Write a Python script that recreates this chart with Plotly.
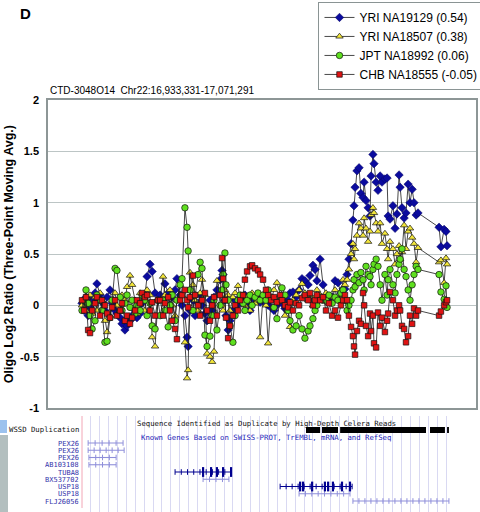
import plotly.graph_objects as go

# ---------------- data ----------------
# probe positions, kb from chr22:16,933,331
probe_kb = [
    0.0, 0.8, 1.5, 2.3, 3.0, 3.8, 4.9, 5.6, 6.8, 7.5, 8.6, 9.4, 10.5, 11.3, 12.4, 13.1,
    14.3, 15.0, 16.1, 16.9, 18.0, 18.8, 19.9, 20.6, 21.8, 22.5, 23.6, 24.4, 25.5, 26.3, 27.4, 28.5,
    29.3, 30.4, 31.1, 32.3, 33.0, 33.8, 34.9, 35.6, 36.8, 37.5, 38.6, 39.4, 39.8, 40.5, 41.6, 42.4,
    43.5, 44.3, 45.0, 46.1, 46.9, 48.0, 48.8, 49.5, 50.6, 51.8, 52.5, 52.9, 53.6, 54.0, 54.8, 55.5,
    56.6, 57.4, 58.5, 59.3, 60.4, 61.1, 61.9, 63.0, 63.8, 64.9, 66.0, 66.8,
    67.9, 69.0, 69.8, 70.9, 72.0, 73.1, 74.3, 75.0, 76.1, 77.3, 78.0, 79.1, 80.3, 81.4, 82.5,
    83.6, 84.8, 85.5, 86.6, 87.4, 88.1, 89.3, 90.4, 91.5, 92.6, 93.8, 94.9, 96.0, 97.1, 97.9,
    98.6, 99.4, 100.1, 100.9, 101.6, 102.0, 102.4, 103.1, 103.9, 104.6, 105.4, 105.8, 106.5, 107.3,
    108.0, 108.4, 109.1, 109.5, 110.3, 111.0, 111.8, 112.5, 113.6, 114.4, 114.8, 115.5, 116.6, 117.4,
    118.1, 118.9, 119.3, 120.0, 120.8, 121.5, 122.3, 123.0, 123.8, 124.5, 125.3, 126.0,
    133.9, 134.6, 135.8, 136.5, 136.9,
]

yri_na19129 = [
    0.02, -0.05, 0.08, -0.10, -0.02, 0.05, 0.12, 0.21, 0.10, 0.03, -0.05, 0.08, 0.15, 0.02, -0.05, -0.08,
    -0.12, -0.18, -0.24, -0.20, -0.15, -0.10, -0.05, -0.12, -0.08, 0.02, 0.10, 0.28, 0.40, 0.33, 0.12, 0.05,
    0.10, 0.05, 0.21, 0.12, 0.00, 0.08, 0.15, 0.26, 0.10, 0.00, -0.10, -0.31, -0.40, -0.05, 0.05, -0.10,
    0.02, 0.10, 0.00, -0.08, -0.15, 0.05, -0.05, 0.08, 0.15, 0.25, 0.34, 0.30, 0.05, -0.10, -0.24, -0.15,
    -0.05, 0.05, 0.00, 0.08, 0.05, 0.10, 0.02, -0.05, 0.08, 0.05, 0.10, 0.03,
    0.05, 0.02, 0.00, -0.02, -0.05, 0.00, 0.05, 0.02, -0.03, 0.05, 0.12, 0.13, 0.08, 0.15, 0.26,
    0.24, 0.20, 0.29, 0.39, 0.35, 0.24, 0.45, 0.20, 0.10, 0.05, 0.08, 0.24, 0.22, 0.12, 0.16,
    0.16, 0.30, 0.45, 0.60, 0.83, 0.97, 1.15, 1.31, 1.34, 1.09, 1.05, 1.20, 1.02, 0.95,
    0.87, 1.26, 1.47, 1.38, 1.20, 1.12, 1.26, 1.20, 1.23, 1.24, 0.87, 0.84, 0.97, 0.75,
    0.89, 1.27, 1.15, 0.95, 0.85, 0.90, 1.18, 1.00, 1.13, 1.00, 0.88, 0.90,
    0.76, 0.57, 0.74, 0.72, 0.58,
]

yri_na18507 = [
    0.00, 0.05, -0.05, 0.03, 0.10, -0.08, 0.08, -0.05, 0.12, 0.05, -0.15, -0.26, -0.10, 0.05, 0.12, 0.00,
    -0.05, 0.10, 0.05, 0.18, 0.29, 0.20, 0.05, -0.08, 0.12, 0.05, -0.05, 0.15, 0.10, -0.31, -0.40, 0.05,
    0.05, 0.28, 0.10, -0.05, 0.15, 0.00, -0.10, 0.05, 0.20, 0.10, -0.36, -0.71, -0.63, 0.32, 0.20, 0.05,
    -0.05, 0.12, 0.25, 0.10, -0.47, -0.50, -0.55, -0.45, 0.24, 0.10, 0.00, -0.05, 0.15, 0.05, 0.10, -0.05,
    0.08, 0.12, 0.19, 0.05, 0.10, 0.00, 0.08, -0.05, 0.12, 0.02, 0.05, -0.31,
    0.10, 0.00, -0.37, 0.05, 0.15, 0.22, 0.10, 0.05, -0.10, -0.05, -0.21, 0.05, 0.10, 0.15, 0.21,
    0.12, 0.05, 0.10, 0.00, 0.08, 0.15, 0.10, 0.05, 0.12, 0.02, 0.08, 0.15, 0.05, 0.10, 0.25,
    0.20, 0.25, 0.35, 0.50, 0.60, 0.45, 0.55, 0.68, 0.80, 0.75, 0.68, 0.85, 0.75, 0.62,
    0.72, 0.88, 0.95, 0.90, 0.80, 0.72, 0.80, 0.60, 0.70, 0.55, 0.45, 0.62, 0.55, 0.40,
    0.50, 0.58, 0.45, 0.52, 0.78, 0.55, 0.72, 0.75, 0.66, 0.60, 0.42, 0.56,
    0.42, 0.44, 0.22, 0.46, 0.40,
]

jpt_na18992 = [
    -0.05, 0.05, 0.15, 0.02, -0.10, -0.23, -0.15, 0.10, 0.05, -0.05, -0.36, -0.35, -0.12, 0.05, 0.36, 0.34,
    0.08, -0.05, 0.02, 0.10, -0.02, 0.05, -0.08, 0.00, -0.05, 0.10, 0.05, -0.10, 0.02, -0.20, -0.23, 0.05,
    -0.10, 0.05, -0.05, -0.21, 0.00, 0.10, -0.15, 0.05, 0.20, 0.26, 0.95, 0.76, 0.53, 0.15, -0.05, 0.10,
    0.30, 0.42, 0.36, -0.29, -0.40, -0.30, -0.10, 0.05, -0.24, 0.00, 0.15, 0.30, 0.51, 0.20, 0.05, -0.20,
    -0.36, -0.10, 0.05, 0.10, 0.02, -0.05, 0.05, 0.10, 0.00, 0.08, 0.12, 0.05,
    0.10, 0.05, 0.15, 0.08, -0.02, -0.13, 0.05, 0.17, 0.10, -0.05, -0.15, -0.24, -0.20, -0.10, -0.23,
    -0.32, -0.25, -0.20, -0.13, -0.05, 0.00, 0.08, 0.05, 0.05, 0.10, 0.02, 0.08, 0.05, 0.12, 0.15,
    0.05, -0.05, 0.00, 0.05, 0.15, 0.25, 0.18, 0.30, 0.22, 0.32, 0.25, 0.15, 0.38, 0.30,
    0.28, 0.20, 0.35, 0.40, 0.45, 0.38, 0.20, 0.05, 0.30, 0.10, 0.25, 0.35, 0.20, 0.12,
    0.30, 0.40, 0.45, 0.55, 0.35, 0.28, 0.15, 0.05, 0.20, 0.30, 0.38, 0.35,
    0.30, 0.13, 0.06, 0.19, -0.02,
]

chb_na18555 = [
    0.05, -0.05, 0.08, -0.24, -0.27, -0.05, 0.02, 0.08, -0.10, 0.05, 0.00, -0.08, -0.12, -0.02, 0.05, -0.10,
    -0.05, 0.02, -0.15, -0.10, -0.18, -0.12, -0.05, 0.05, 0.02, 0.12, 0.08, 0.10, -0.05, 0.03, -0.10, 0.05,
    0.05, -0.10, 0.02, 0.08, -0.05, -0.15, -0.23, -0.33, 0.05, 0.10, 0.15, 0.05, -0.02, 0.08, 0.29, 0.10,
    0.00, -0.10, 0.05, 0.12, -0.05, -0.15, 0.00, 0.08, -0.10, 0.10, 0.46, 0.26, 0.05, -0.12, -0.32, -0.20,
    -0.10, 0.00, -0.05, 0.05, 0.10, 0.25, 0.33, 0.38, 0.39, 0.36, 0.34, 0.30,
    0.25, 0.15, 0.10, 0.05, 0.08, 0.03, 0.10, 0.05, 0.00, -0.02, 0.03, -0.05, 0.02, 0.00, 0.07,
    0.10, 0.05, 0.12, 0.00, 0.05, 0.10, 0.05, 0.08, -0.05, 0.02, -0.10, -0.05, -0.12, 0.00, 0.05,
    0.10, 0.05, -0.10, -0.21, -0.30, -0.40, -0.48, -0.25, -0.15, -0.18, 0.12, 0.00, -0.20, -0.30,
    -0.08, -0.25, -0.10, -0.37, -0.41, -0.07, -0.20, -0.12, -0.26, -0.15, -0.08, 0.13, 0.05, -0.10,
    -0.05, 0.00, -0.05, -0.20, -0.23, -0.36, -0.30, -0.10, -0.18, -0.03, -0.10, -0.05,
    -0.10, -0.06, 0.00, 0.03, 0.05,
]

series_names = ["YRI NA19129 (0.54)", "YRI NA18507 (0.38)", "JPT NA18992 (0.06)", "CHB NA18555 (-0.05)"]
series_values = [yri_na19129, yri_na18507, jpt_na18992, chb_na18555]

y_tick_vals = [-1, -0.5, 0, 0.5, 1, 1.5, 2]
y_tick_text = ["-1", "-0.5", "0", "0.5", "1", "1.5", "2"]

# genome browser track (kb from region start)
gene_names = ["PEX26", "PEX26", "PEX26", "AB103108", "TUBA8", "BX537702", "USP18", "USP18", "FLJ26056"]
gene_start_kb = [2.3, 2.3, 2.6, 2.6, 34.9, 45.4, 74.3, 81.4, 101.6]
gene_end_kb = [15.4, 15.8, 12.8, 12.8, 55.9, 55.1, 101.3, 100.5, 137.6]
gene_known = [False, False, False, False, True, False, True, False, False]
tuba8_exons_kb = [45.4, 48.4, 50.6, 52.9, 55.9]
usp18_exons_kb = [81.8, 82.9, 86.3, 91.1, 92.3, 94.1, 97.5, 100.5]
wssd_start_kb = [84.0, 90.0, 96.8, 130.5, 136.9]
wssd_end_kb = [89.3, 96.0, 129.0, 136.1, 137.6]
region_len_kb = 137.96

for s in series_values:
    assert len(s) == len(probe_kb), len(s)

# ---------------- figure ----------------
FONT = "Arial, Liberation Sans, sans-serif"
MONO = "DejaVu Sans Mono, monospace"
X_RANGE = [-12.75, 147.75]

styles = [
    dict(symbol="diamond", color="#0b0b9e", size=6.5, line=dict(color="#05055e", width=0.5)),
    dict(symbol="triangle-up", color="#f3e63a", size=6.5, line=dict(color="#111111", width=0.7)),
    dict(symbol="circle", color="#5fe01f", size=6.5, line=dict(color="#111111", width=0.7)),
    dict(symbol="square", color="#e01313", size=5.5, line=dict(color="#111111", width=0.7)),
]

fig = go.Figure()
for name, vals, st in zip(series_names, series_values, styles):
    fig.add_trace(go.Scatter(
        x=probe_kb, y=vals, name=name, mode="lines+markers",
        line=dict(color="#1a1a1a", width=0.8),
        marker=st, xaxis="x", yaxis="y",
    ))

# genes
row_y = [27 + 7.25 * i for i in range(len(gene_names))]
for i, (g0, g1, known) in enumerate(zip(gene_start_kb, gene_end_kb, gene_known)):
    col = "#00008f" if known else "#8f8fda"
    n = max(2, int((g1 - g0) / 2.2))
    xs = [g0 + (g1 - g0) * k / n for k in range(n + 1)]
    fig.add_trace(go.Scatter(
        x=xs, y=[row_y[i]] * len(xs), mode="lines+markers", showlegend=False,
        line=dict(color=col, width=1.1),
        marker=dict(symbol="line-ns-open", size=4, color=col, line=dict(color=col, width=1)),
        xaxis="x2", yaxis="y2", hoverinfo="skip",
    ))
for exons, gi in ((tuba8_exons_kb, 4), (usp18_exons_kb, 6)):
    fig.add_trace(go.Scatter(
        x=exons, y=[row_y[gi]] * len(exons), mode="markers", showlegend=False,
        marker=dict(symbol="line-ns-open", size=7, color="#00008f",
                    line=dict(color="#00008f", width=2.2)),
        xaxis="x2", yaxis="y2", hoverinfo="skip",
    ))

shapes = []
for a, b in zip(wssd_start_kb, wssd_end_kb):
    shapes.append(dict(type="rect", xref="x2", yref="y2", x0=a, x1=b, y0=11, y1=17,
                       fillcolor="black", line=dict(width=0)))
shapes.append(dict(type="line", xref="x2", yref="y2", x0=0, x1=0, y0=0, y1=92,
                   line=dict(color="#f2a6b6", width=1)))
shapes.append(dict(type="rect", xref="paper", yref="y2", x0=-0.1121, x1=-0.0958, y0=4, y1=17,
                   fillcolor="#9cc2ee", line=dict(width=0)))
shapes.append(dict(type="rect", xref="paper", yref="y2", x0=-0.1121, x1=-0.0935, y0=19, y1=96,
                   fillcolor="#b3bfbf", line=dict(width=0)))

annotations = [
    dict(text="<b>D</b>", xref="paper", yref="paper", x=-0.070, y=1.209, xanchor="left",
         yanchor="middle", showarrow=False, font=dict(size=15, family=FONT, color="black")),
    dict(text="CTD-3048O14  Chr22:16,933,331-17,071,291", xref="paper", yref="paper",
         x=0.0, y=1.024, xanchor="left", yanchor="middle", showarrow=False,
         font=dict(size=10, family=FONT, color="black")),
    dict(text="<b>Oligo Log2 Ratio (Three-Point Moving Avg.)</b>", xref="paper", yref="paper",
         x=-0.091, y=0.626, textangle=-90, xanchor="center", yanchor="middle", showarrow=False,
         font=dict(size=12.5, family=FONT, color="black")),
    dict(text="WSSD Duplication", xref="paper", yref="y2", x=0.0771, y=13, xanchor="right",
         yanchor="middle", showarrow=False, font=dict(size=7.3, family=MONO, color="#111111")),
    dict(text="Sequence Identified as Duplicate by High-Depth Celera Reads", xref="x2", yref="y2",
         x=69, y=7, xanchor="center", yanchor="middle", showarrow=False,
         font=dict(size=7.3, family=MONO, color="#111111")),
    dict(text="Known Genes Based on SWISS-PROT, TrEMBL, mRNA, and RefSeq", xref="x2", yref="y2",
         x=69, y=21.5, xanchor="center", yanchor="middle", showarrow=False,
         font=dict(size=7.3, family=MONO, color="#2424b8")),
]
for i, gname in enumerate(gene_names):
    annotations.append(dict(text=gname, xref="paper", yref="y2", x=0.0771, y=row_y[i],
                            xanchor="right", yanchor="middle", showarrow=False, height=7,
                            font=dict(size=7, family=MONO, color="#3232aa")))

grid_kb = [3.33 * k for k in range(1, int(region_len_kb / 3.33) + 1)]

fig.update_layout(
    width=480, height=512, autosize=False,
    margin=dict(l=48, r=4, t=100, b=0, pad=0, autoexpand=False),
    paper_bgcolor="white", plot_bgcolor="white",
    font=dict(family=FONT, color="black"),
    hovermode=False,
    showlegend=True,
    legend=dict(x=0.632, y=1.238, xanchor="left", yanchor="top",
                bgcolor="white", bordercolor="#8a9494", borderwidth=1,
                font=dict(size=12, family=FONT, color="black"),
                itemwidth=30, tracegroupgap=0),
    xaxis=dict(domain=[0, 1], range=X_RANGE, anchor="y", showline=True, mirror=True,
               linecolor="#8d9696", linewidth=1.5, showticklabels=False, ticks="",
               showgrid=False, zeroline=False),
    yaxis=dict(domain=[0.2524, 1], range=[-1, 2], anchor="x", tickvals=y_tick_vals,
               ticktext=y_tick_text, showline=True, mirror=True, linecolor="#8d9696",
               linewidth=1.5, gridcolor="#bcc5c5", gridwidth=1, zeroline=False, ticks="",
               ticklabelstandoff=5,
               tickfont=dict(size=11, family=FONT, color="black", weight="bold")),
    xaxis2=dict(domain=[0, 1], range=X_RANGE, anchor="y2", tickvals=grid_kb,
                showticklabels=False, ticks="", showgrid=True, gridcolor="#d9d9f2",
                gridwidth=1, zeroline=False, showline=False),
    yaxis2=dict(domain=[0, 96 / 412], range=[96, 0], anchor="x2", visible=False),
    shapes=shapes, annotations=annotations,
)

# remove the page's default 8 px body margin so the 480x512 figure fills the window
fig.write_html("out.html", config={"displayModeBar": False},
               post_script="document.body.style.margin='0px';")
